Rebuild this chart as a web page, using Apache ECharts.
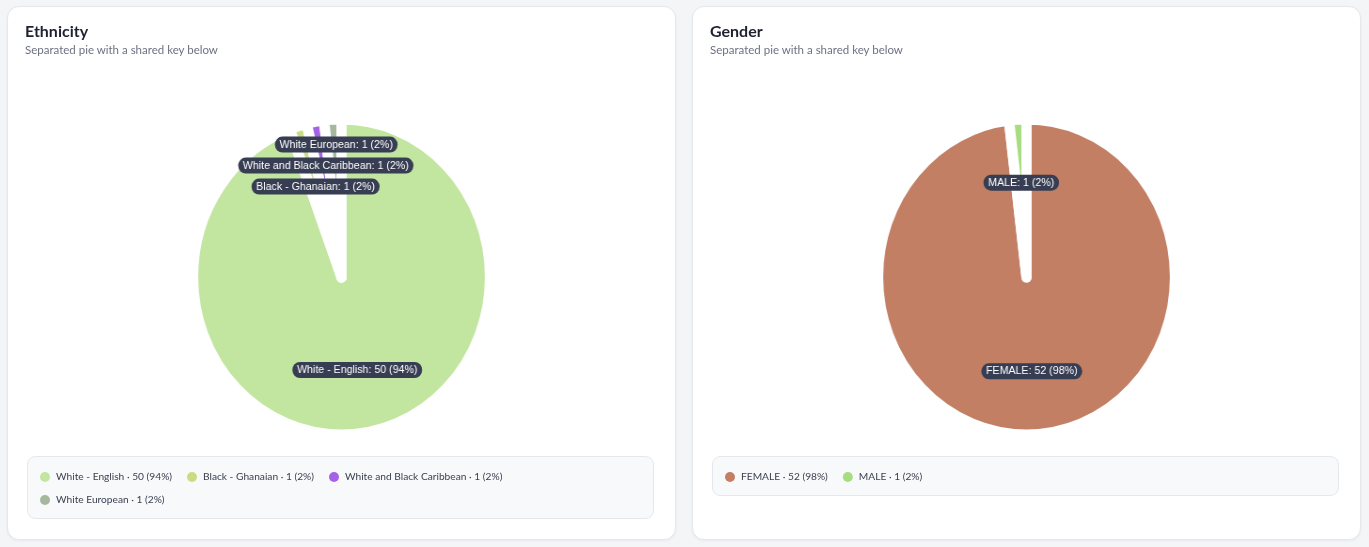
<!DOCTYPE html>
<html>
<head>
<meta charset="utf-8">
<script src="https://cdn.jsdelivr.net/npm/echarts@6/dist/echarts.min.js"></script>
<style>
  html, body { margin: 0; padding: 0; background: #f4f5f7; }
  body { width: 1369px; height: 547px; position: relative; overflow: hidden; font-family: Lato, "Noto Sans", sans-serif; }
  .card { position: absolute; top: 6px; width: 667px; height: 532px; background: #fff; border: 1px solid #e5e7eb; border-radius: 12px; box-shadow: 0 1px 3px rgba(15, 23, 42, 0.05); }
  .card .pie { position: absolute; left: 0; top: 0; width: 100%; height: 440px; transform: scaleX(0.94); transform-origin: 50% 0; }
  .card .key { position: absolute; left: 0; top: 440px; width: 100%; height: 92px; }
  .card h3 { position: absolute; left: 17px; top: 14px; margin: 0; font-size: 16px; font-weight: 700; color: #1e2230; z-index: 2; }
  .card p { position: absolute; left: 17px; top: 36px; margin: 0; font-size: 11.5px; color: #6b7280; z-index: 2; }
</style>
</head>
<body>
<div class="card" style="left:7px">
  <h3>Ethnicity</h3>
  <p>Separated pie with a shared key below</p>
  <div class="pie" id="ethnicityPie"></div>
  <div class="key" id="ethnicityKey"></div>
</div>
<div class="card" style="left:692px">
  <h3>Gender</h3>
  <p>Separated pie with a shared key below</p>
  <div class="pie" id="genderPie"></div>
  <div class="key" id="genderKey"></div>
</div>
<script>
// data
var ethnicityNames = ['White - English', 'Black - Ghanaian', 'White and Black Caribbean', 'White European'];
var ethnicityCounts = [50, 1, 1, 1];
var ethnicityColors = ['#c2e6a0', '#cadc82', '#a562e6', '#a5b89e'];

var genderNames = ['FEMALE', 'MALE'];
var genderCounts = [52, 1];
var genderColors = ['#c27f64', '#a8dc80'];

function pct(v, total) {
    return Math.round(v / total * 100);
}

// stack overlapping labels upward, in data order
function stackLabels() {
    var placed = [];
    return function (p) {
        if (p.dataIndex === 0) placed = [];
        var r = p.labelRect;
        var y = r.y;
        var moved = true;
        while (moved) {
            moved = false;
            for (var i = 0; i < placed.length; i++) {
                var q = placed[i];
                if (r.x < q.x + q.width && r.x + r.width > q.x &&
                    y < q.y + q.height + 5 && y + r.height + 5 > q.y) {
                    y = q.y - r.height - 5;
                    moved = true;
                }
            }
        }
        placed.push({x: r.x, y: y, width: r.width, height: r.height});
        return {dy: y - r.y};
    };
}

function toData(names, counts, colors) {
    return names.map(function (n, i) {
        return {name: n, value: counts[i], itemStyle: {color: colors[i]}};
    });
}

function buildPie(domId, names, counts, colors) {
    var chart = echarts.init(document.getElementById(domId));
    var total = counts.reduce(function (a, b) { return a + b; }, 0);
    var labelData = names.map(function (n, i) {
        return {name: n, value: counts[i]};
    });

    chart.setOption({
        animation: false,
        series: [{
            type: 'pie',
            radius: 158,
            center: ['50%', 270],
            startAngle: 90,
            silent: true,
            itemStyle: {borderColor: '#fff', borderWidth: 11},
            label: {show: false},
            labelLine: {show: false},
            emphasis: {disabled: true},
            data: toData(names, counts, colors)
        }, {
            // transparent twin pie only for placing labels
            type: 'pie',
            radius: 183,
            center: ['50%', 270],
            startAngle: 90,
            silent: true,
            itemStyle: {color: 'rgba(0,0,0,0)'},
            labelLine: {show: false},
            emphasis: {disabled: true},
            label: {
                show: true,
                position: 'inside',
                fontFamily: 'Liberation Sans',
                fontSize: 11.3,
                lineHeight: 12,
                color: '#fff',
                backgroundColor: '#373d52',
                borderRadius: 8,
                padding: [2, 5, 2, 5],
                formatter: function (p) {
                    return p.name + ': ' + p.value + ' (' + pct(p.value, total) + '%)';
                }
            },
            labelLayout: stackLabels(),
            data: labelData
        }]
    });
    return chart;
}

function buildKey(domId, names, counts, colors, boxHeight) {
    var chart = echarts.init(document.getElementById(domId));
    var total = counts.reduce(function (a, b) { return a + b; }, 0);

    chart.setOption({
        animation: false,
        graphic: [{
            type: 'rect',
            left: 19, top: 9,
            shape: {width: 626, height: boxHeight, r: 8},
            style: {fill: '#f8f9fb', stroke: '#e3e7ee', lineWidth: 1},
            silent: true
        }],
        legend: {
            left: 32, top: 24,
            width: 520,
            padding: 0,
            icon: 'circle',
            itemWidth: 10, itemHeight: 10,
            itemGap: 11,
            selectedMode: false,
            data: names,
            textStyle: {
                fontFamily: 'Lato',
                fontSize: 10.2, lineHeight: 12, color: '#3b4150',
                padding: [0, 4, 0, 1]
            },
            formatter: function (name) {
                var v = counts[names.indexOf(name)];
                return name + ' \u00b7 ' + v + ' (' + pct(v, total) + '%)';
            }
        },
        // zero-size pie, only feeds the legend
        series: [{
            type: 'pie',
            radius: 0,
            center: [-50, -50],
            silent: true,
            label: {show: false},
            labelLine: {show: false},
            data: toData(names, counts, colors)
        }]
    });
    return chart;
}

buildPie('ethnicityPie', ethnicityNames, ethnicityCounts, ethnicityColors);
buildKey('ethnicityKey', ethnicityNames, ethnicityCounts, ethnicityColors, 62);
buildPie('genderPie', genderNames, genderCounts, genderColors);
buildKey('genderKey', genderNames, genderCounts, genderColors, 39);
</script>
</body>
</html>
